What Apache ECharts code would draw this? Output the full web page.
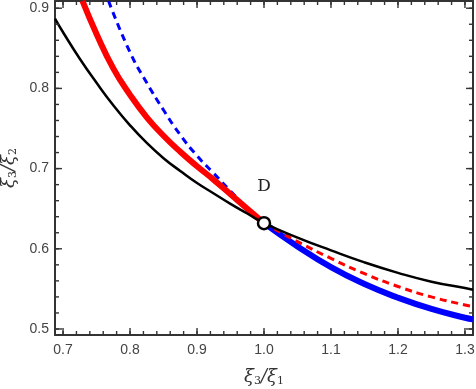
<!DOCTYPE html>
<html>
<head>
<meta charset="utf-8">
<script src="https://cdn.jsdelivr.net/npm/echarts@6/dist/echarts.min.js"></script>
<style>
  html, body { margin: 0; padding: 0; background: #fff; }
  #chart { width: 476px; height: 389px; }
</style>
</head>
<body>
<div id="chart"></div>
<script>
// axis ranges and tick labels
const xRange = [0.688, 1.312];
const yRange = [0.4925, 0.909];
const xMajor = [0.7, 0.8, 0.9, 1.0, 1.1, 1.2, 1.3];
const yMajor = [0.5, 0.6, 0.7, 0.8, 0.9];

// black curve, full range
const blackX = [0.688, 0.70, 0.725, 0.75, 0.775, 0.80, 0.825, 0.85, 0.875, 0.90, 0.925, 0.95, 0.975, 1.00,
  1.05, 1.10, 1.15, 1.20, 1.25, 1.30, 1.312];
const blackY = [0.887, 0.870, 0.837, 0.807, 0.779, 0.754, 0.732, 0.713, 0.697, 0.682, 0.669, 0.656, 0.644, 0.632,
  0.614, 0.598, 0.583, 0.570, 0.559, 0.551, 0.549];

// red: thick left of D, dashed right of D
const redLeftX = [0.729, 0.75, 0.775, 0.80, 0.825, 0.85, 0.875, 0.90, 0.925, 0.95, 0.975, 1.00];
const redLeftY = [0.909, 0.868, 0.825, 0.792, 0.764, 0.741, 0.721, 0.703, 0.686, 0.668, 0.650, 0.632];
const redRightX = [1.00, 1.05, 1.10, 1.15, 1.20, 1.25, 1.30, 1.312];
const redRightY = [0.632, 0.609, 0.588, 0.569, 0.553, 0.540, 0.530, 0.528];

// blue: dashed left of D, thick right of D
const blueLeftX = [0.768, 0.80, 0.825, 0.85, 0.875, 0.90, 0.925, 0.95, 0.975, 1.00];
const blueLeftY = [0.909, 0.845, 0.807, 0.773, 0.742, 0.716, 0.694, 0.672, 0.651, 0.632];
const blueRightX = [1.00, 1.05, 1.10, 1.15, 1.20, 1.25, 1.30, 1.312];
const blueRightY = [0.632, 0.603, 0.577, 0.556, 0.539, 0.525, 0.514, 0.512];

const pointD = [1.0, 0.632];

function pairs(xs, ys) {
  return xs.map((x, i) => [x, ys[i]]);
}
function steps(lo, hi, step) {
  const out = [];
  for (let v = Math.ceil(lo / step - 1e-9) * step; v <= hi + 1e-9; v += step) {
    out.push(Math.round(v * 1000) / 1000);
  }
  return out;
}
const xMinor = steps(xRange[0], xRange[1], 0.02);
const yMinor = steps(yRange[0], yRange[1], 0.02);

// frame ticks pointing inward: [x, y, direction, length]
// direction 0 = up from bottom, 1 = down from top, 2 = right from left, 3 = left from right
const tickItems = [];
xMinor.forEach((v) => tickItems.push([v, yRange[0], 0, 4], [v, yRange[1], 1, 4]));
xMajor.forEach((v) => tickItems.push([v, yRange[0], 0, 7], [v, yRange[1], 1, 7]));
yMinor.forEach((v) => tickItems.push([xRange[0], v, 2, 4], [xRange[1], v, 3, 4]));
yMajor.forEach((v) => tickItems.push([xRange[0], v, 2, 7], [xRange[1], v, 3, 7]));

const frameColor = '#333';
const labelFont = { color: '#444', fontSize: 14, fontFamily: 'Liberation Sans, Arial, sans-serif' };
const nameRich = {
  i: { fontFamily: 'DejaVu Serif, serif', fontStyle: 'italic', fontSize: 18, color: '#333' },
  s: { fontFamily: 'DejaVu Serif, serif', fontSize: 11, color: '#333', padding: [8, 0, 0, 0] },
};

function xFrame(pos, withLabels) {
  return {
    type: 'value', position: pos, min: xRange[0], max: xRange[1],
    axisLine: { show: true, onZero: false, lineStyle: { color: frameColor, width: 2 } },
    axisTick: { show: false },
    axisLabel: { show: withLabels, margin: 8, customValues: xMajor,
      formatter: (v) => v.toFixed(1), ...labelFont },
    splitLine: { show: false },
    name: withLabels ? '{i|ξ}{s|3}{i|/ξ}{s|1}' : '',
    nameLocation: 'middle', nameGap: 33,
    nameTextStyle: { rich: nameRich },
  };
}
function yFrame(pos, withLabels) {
  return {
    type: 'value', position: pos, min: yRange[0], max: yRange[1],
    axisLine: { show: true, onZero: false, lineStyle: { color: frameColor, width: 2 } },
    axisTick: { show: false },
    axisLabel: { show: withLabels, margin: 6, customValues: yMajor,
      formatter: (v) => v.toFixed(1), ...labelFont },
    splitLine: { show: false },
    name: withLabels ? '{i|ξ}{s|3}{i|/ξ}{s|2}' : '',
    nameLocation: 'middle', nameGap: 34, nameRotate: 90,
    nameTextStyle: { rich: nameRich },
  };
}

// each tick drawn as a thin filled rect starting at the frame line
function renderTick(params, api) {
  const p = api.coord([api.value(0), api.value(1)]);
  const dir = api.value(2);
  const len = api.value(3);
  const w = 1.4;
  let shape;
  if (dir === 0) shape = { x: p[0] - w / 2, y: p[1] - len, width: w, height: len };
  else if (dir === 1) shape = { x: p[0] - w / 2, y: p[1], width: w, height: len };
  else if (dir === 2) shape = { x: p[0], y: p[1] - w / 2, width: len, height: w };
  else shape = { x: p[0] - len, y: p[1] - w / 2, width: len, height: w };
  return { type: 'rect', shape, style: { fill: frameColor } };
}

const chart = echarts.init(document.getElementById('chart'));
chart.setOption({
  animation: false,
  grid: { left: 55, right: 3, top: 1, bottom: 54, containLabel: false, outerBoundsMode: 'none' },
  xAxis: [xFrame('bottom', true), xFrame('top', false)],
  yAxis: [yFrame('left', true), yFrame('right', false)],
  series: [
    { type: 'line', data: pairs(blackX, blackY), smooth: true, showSymbol: false, clip: true,
      lineStyle: { color: '#000', width: 2.5 }, z: 3 },
    { type: 'line', data: pairs(blueLeftX, blueLeftY), smooth: true, showSymbol: false, clip: true,
      lineStyle: { color: '#0000ff', width: 3, type: [7, 5] }, z: 2 },
    { type: 'line', data: pairs(redLeftX, redLeftY), smooth: true, showSymbol: false, clip: true,
      lineStyle: { color: '#ff0000', width: 6 }, z: 2 },
    { type: 'line', data: pairs(blueRightX, blueRightY), smooth: true, showSymbol: false, clip: true,
      lineStyle: { color: '#0000ff', width: 6 }, z: 2 },
    { type: 'line', data: pairs(redRightX, redRightY), smooth: true, showSymbol: false, clip: true,
      lineStyle: { color: '#ff0000', width: 3, type: [7, 5] }, z: 2 },
    { type: 'custom', data: tickItems, silent: true, clip: false, z: 10,
      dimensions: ['x', 'y', 'dir', 'len'], encode: { x: 0, y: 1 },
      renderItem: renderTick },
    { type: 'scatter', data: [pointD], symbol: 'circle', symbolSize: 12, z: 5,
      itemStyle: { color: '#fff', opacity: 1, borderColor: '#000', borderWidth: 2.5 },
      label: { show: true, position: 'top', distance: 21, formatter: 'D',
        fontFamily: 'DejaVu Serif, serif', fontSize: 17, color: '#222' } },
  ],
});
</script>
</body>
</html>
